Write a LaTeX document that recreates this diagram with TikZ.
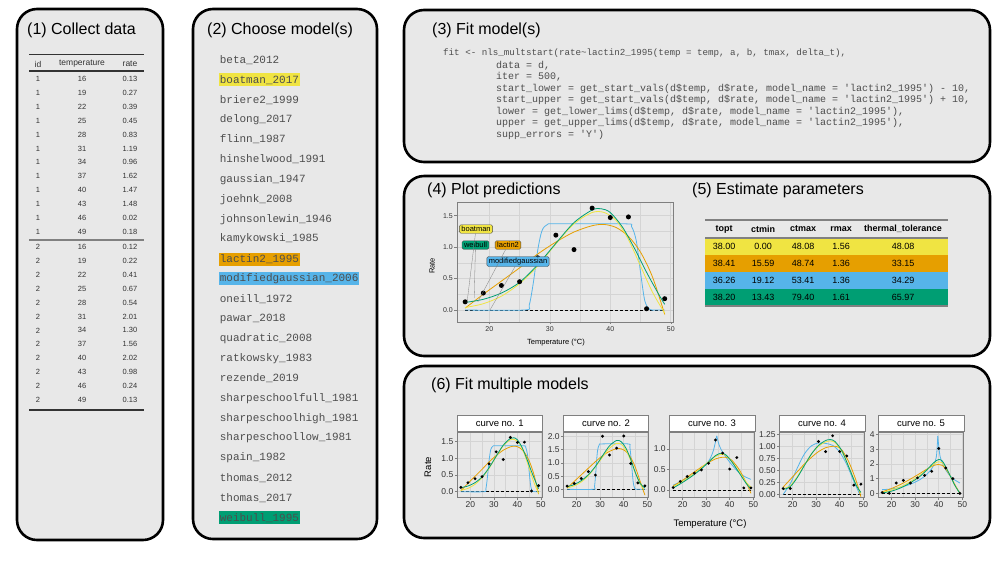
\documentclass[tikz,border=0pt]{standalone}
\usepackage{fontspec}
\setmainfont{Liberation Sans}
\setmonofont{Liberation Mono}
\usetikzlibrary{positioning}
\definecolor{boxgray}{HTML}{E8E8E8}
\definecolor{okyellow}{HTML}{F0E442}
\definecolor{okorange}{HTML}{E69F00}
\definecolor{okblue}{HTML}{56B4E9}
\definecolor{okgreen}{HTML}{009E73}
\definecolor{txtgray}{HTML}{333333}
\definecolor{codegray}{HTML}{4D4D4D}
\definecolor{gridgray}{HTML}{D4D4D4}
\definecolor{framegray}{HTML}{7F7F7F}

\begin{document}
\begin{tikzpicture}[
    x=1pt, y=-1pt,
    panel/.style={draw=black, line width=2.6pt, fill=boxgray, rounded corners=20pt},
    ptitle/.style={anchor=west, inner sep=0pt, font=\fontsize{16}{18}\selectfont},
    hd/.style={inner sep=0pt, text=txtgray, font=\fontsize{8.5}{10}\selectfont},
    cell/.style={inner sep=0pt, text=txtgray, font=\fontsize{7.5}{8}\selectfont},
    modelname/.style={anchor=west, inner xsep=0.6pt, inner ysep=0pt, minimum height=13pt,
      text=codegray, font=\ttfamily\fontsize{11}{12}\selectfont},
    codeline/.style={anchor=west, inner sep=0pt, text=codegray, font=\ttfamily\fontsize{10}{11}\selectfont},
    pcell/.style={inner sep=0pt, font=\fontsize{9}{10}\selectfont},
    gridmaj/.style={draw=gridgray, line width=0.6pt},
    gridmin/.style={draw=gridgray, line width=0.3pt},
    plotframe/.style={draw=framegray, line width=0.6pt},
    zeroline/.style={line width=0.7pt, dash pattern=on 3pt off 2pt},
    tickmark/.style={draw=framegray, line width=0.5pt},
    ticklab/.style={inner sep=0pt, text=txtgray, font=\fontsize{7}{8}\selectfont},
    fticklab/.style={inner sep=0pt, text=txtgray, font=\fontsize{8.5}{9}\selectfont},
    axtitle/.style={inner sep=0pt, font=\fontsize{7.5}{8}\selectfont},
    faxtitle/.style={inner sep=0pt, font=\fontsize{9.5}{10}\selectfont},
    cb/.style={draw=okblue, line width=0.8pt},
    co/.style={draw=okorange, line width=0.8pt},
    cy/.style={draw=okyellow, line width=0.8pt},
    cg/.style={draw=okgreen, line width=0.8pt},
    replabel/.style={draw=black!70, rounded corners=1.5pt, inner xsep=2pt, inner ysep=1.5pt,
      font=\fontsize{7.5}{8}\selectfont},
    leader/.style={draw=gray, line width=0.3pt},
    stripbox/.style={draw=framegray, fill=white, line width=0.6pt, minimum width=85.5pt,
      minimum height=16pt, inner sep=0pt, font=\fontsize{9.5}{10}\selectfont},
    mainplot/.style={shift={(368.4,310)}, x=6.047pt, y=62.9pt},
    f1/.style={shift={(423.2,491.7)}, x=2.355pt, y=33.5pt},
    f2/.style={shift={(529.5,489.3)}, x=2.355pt, y=26.4pt},
    f3/.style={shift={(635.5,490)}, x=2.355pt, y=41pt},
    f4/.style={shift={(745.5,494.3)}, x=2.355pt, y=48pt},
    f5/.style={shift={(844.5,493.3)}, x=2.355pt, y=14.7pt}
  ]
    \useasboundingbox (0,0) rectangle (1000,563);

    % (1) data table
    \draw[panel] (17,9) rectangle (163,540);
    \node[ptitle] (t1) at (27,30) {(1) Collect data};
    \draw[line width=0.8pt, txtgray] (29,54) -- (144,54);
    \node[hd] (hid) at (38,64) {id};
    \node[hd] (htemp) at (82,64) {temperature};
    \node[hd] (hrate) at (130,64) {rate};
    \draw[line width=1.6pt, txtgray] (29,71) -- (144,71);
    \foreach \tv/\rv [count=\i from 0] in {16/0.13,19/0.27,22/0.39,25/0.45,28/0.83,31/1.19,
        34/0.96,37/1.62,40/1.47,43/1.48,46/0.02,49/0.18} {
      \node[cell] (ia\i) at (38,{79+13.9*\i}) {1};
      \node[cell] (ta\i) at (82,{79+13.9*\i}) {\tv};
      \node[cell] (ra\i) at (130,{79+13.9*\i}) {\rv};
    }
    \draw[line width=1.6pt, gray] (29,240) -- (144,240);
    \foreach \tv/\rv [count=\i from 0] in {16/0.12,19/0.22,22/0.41,25/0.67,28/0.54,31/2.01,
        34/1.30,37/1.56,40/2.02,43/0.98,46/0.24,49/0.13} {
      \node[cell] (ib\i) at (38,{247+13.9*\i}) {2};
      \node[cell] (tb\i) at (82,{247+13.9*\i}) {\tv};
      \node[cell] (rb\i) at (130,{247+13.9*\i}) {\rv};
    }
    \draw[line width=1.2pt, txtgray] (29,410) -- (144,410);

    % (2) model list
    \draw[panel] (193,9) rectangle (377,539);
    \node[ptitle] (t2) at (207,30) {(2) Choose model(s)};
    \foreach \m/\c [count=\i from 0] in {beta\_2012/none, boatman\_2017/okyellow,
        briere2\_1999/none, delong\_2017/none, flinn\_1987/none, hinshelwood\_1991/none,
        gaussian\_1947/none, joehnk\_2008/none, johnsonlewin\_1946/none,
        kamykowski\_1985/none, lactin2\_1995/okorange, modifiedgaussian\_2006/okblue,
        oneill\_1972/none, pawar\_2018/none, quadratic\_2008/none, ratkowsky\_1983/none,
        rezende\_2019/none, sharpeschoolfull\_1981/none, sharpeschoolhigh\_1981/none,
        sharpeschoollow\_1981/none, spain\_1982/none, thomas\_2012/none,
        thomas\_2017/none, weibull\_1995/okgreen}
      \node[modelname, fill=\c] (m\i) at (219,{60+19.9*\i}) {\m};

    % (3) fitting code
    \draw[panel] (404,10) rectangle (990,162);
    \node[ptitle] (t3) at (432,30) {(3) Fit model(s)};
    \node[codeline, font=\ttfamily\fontsize{9.2}{11}\selectfont] (c0) at (443,53) {fit <- nls\_multstart(rate\textasciitilde lactin2\_1995(temp = temp, a, b, tmax, delta\_t),};
    \node[codeline] (c1) at (496,65.3) {data = d,};
    \node[codeline] (c2) at (496,76.9) {iter = 500,};
    \node[codeline] (c3) at (496,88.5) {start\_lower = get\_start\_vals(d\$temp, d\$rate, model\_name = 'lactin2\_1995') - 10,};
    \node[codeline] (c4) at (496,100.1) {start\_upper = get\_start\_vals(d\$temp, d\$rate, model\_name = 'lactin2\_1995') + 10,};
    \node[codeline] (c5) at (496,111.7) {lower = get\_lower\_lims(d\$temp, d\$rate, model\_name = 'lactin2\_1995'),};
    \node[codeline] (c6) at (496,123.3) {upper = get\_upper\_lims(d\$temp, d\$rate, model\_name = 'lactin2\_1995'),};
    \node[codeline] (c7) at (496,134.9) {supp\_errors = 'Y')};

    % (4) + (5)
    \draw[panel] (404,176) rectangle (990,356);
    \node[ptitle] (t4) at (427,190) {(4) Plot predictions};
    \node[ptitle] (t5) at (692,190) {(5) Estimate parameters};

    \begin{scope}[mainplot]
      \foreach \T in {25,35,45} \draw[gridmin] (\T,-0.19) -- (\T,1.72);
      \foreach \v in {0.25,0.75,1.25} \draw[gridmin] (14.65,\v) -- (50.37,\v);
      \foreach \T in {20,30,40,50} {
        \draw[gridmaj] (\T,-0.19) -- (\T,1.72);
        \draw[tickmark] (\T,-0.19) -- ++(0pt,-2.5pt);
        \node[ticklab, anchor=north] (mx\T) at ([yshift=-4pt]\T,-0.19) {\T};
      }
      \foreach \v [count=\k] in {0.0,0.5,1.0,1.5} {
        \draw[gridmaj] (14.65,\v) -- (50.37,\v);
        \draw[tickmark] (14.65,\v) -- ++(-2.5pt,0pt);
        \node[ticklab, anchor=east] (my\k) at ([xshift=-4pt]14.65,\v) {\v};
      }
      \draw[zeroline] (16,0) -- (49,0);
      \draw[cb] plot[smooth, tension=0.5] coordinates {(16,0) (25.8,0) (26.6,0.08) (27.3,0.45) (28,0.95)
        (28.7,1.26) (29.6,1.36) (31,1.37) (42.5,1.37) (43.5,1.33) (44.3,1.1) (45,0.6) (45.7,0.15)
        (46.5,0.01) (47.5,0) (49,0)};
      \draw[co] plot[smooth] coordinates {(16,0.03) (19,0.25) (22,0.46) (25,0.67) (28,0.89) (31,1.08)
        (34,1.24) (37,1.34) (39,1.36) (41,1.31) (43,1.17) (45,0.92) (47,0.52) (49,-0.07)};
      \draw[cy] plot[smooth] coordinates {(16,0.04) (19,0.1) (22,0.22) (25,0.42) (28,0.7) (31,1.05)
        (34,1.37) (37,1.55) (39,1.55) (41,1.42) (43,1.12) (45,0.7) (47,0.28) (49,-0.05)};
      \draw[cg] plot[smooth] coordinates {(16,0.12) (19,0.17) (22,0.27) (25,0.44) (28,0.72) (31,1.06)
        (34,1.39) (37,1.59) (38.5,1.61) (40,1.55) (42,1.32) (44,0.98) (46,0.6) (48,0.25) (49,0.09)};
      \foreach \T/\r in {16/0.13,19/0.27,22/0.39,25/0.45,28/0.83,31/1.19,34/0.96,37/1.62,
          40/1.47,43/1.48,46/0.02,49/0.18}
        \fill (\T,\r) circle (2.5pt);
      \draw[plotframe] (14.65,-0.19) rectangle (50.37,1.72);
      \coordinate (eBoat) at (16.3,0.11);
      \coordinate (eWeib) at (17.5,0.19);
      \coordinate (eLact) at (18.1,0.13);
      \coordinate (eMod) at (20.1,0);
    \end{scope}
    \node[replabel, fill=okyellow] (lbBoat) at (476,229) {boatman};
    \node[replabel, fill=okgreen] (lbWeib) at (475.5,245) {weibull};
    \node[replabel, fill=okorange] (lbLact) at (508,245) {lactin2};
    \node[replabel, fill=okblue] (lbMod) at (518,261.5) {modifiedgaussian};
    \draw[leader] (lbBoat) -- (eBoat);
    \draw[leader] (lbWeib) -- (eWeib);
    \draw[leader] (lbLact) -- (eLact);
    \draw[leader] (lbMod) -- (eMod);
    \node[axtitle, rotate=90] (mRate) at (432,266) {Rate};
    \node[axtitle] (mTemp) at (556,343) {Temperature (°C)};

    % parameter table
    \draw[line width=1.6pt, gray] (705,220) -- (948,220);
    \foreach \h/\x [count=\i] in {topt/724, ctmin/763, ctmax/803, rmax/841, thermal\_tolerance/903}
      \node[pcell, font=\bfseries\fontsize{9}{10}\selectfont] (hp\i) at (\x,229) {\h};
    \foreach \c/\a/\b/\d/\e/\f [count=\i from 0] in {okyellow/38.00/0.00/48.08/1.56/48.08,
        okorange/38.41/15.59/48.74/1.36/33.15, okblue/36.26/19.12/53.41/1.36/34.29,
        okgreen/38.20/13.43/79.40/1.61/65.97} {
      \fill[\c] (705,{238+17*\i}) rectangle (948,{255+17*\i});
      \node[pcell] (pa\i) at (724,{246.8+17*\i}) {\a};
      \node[pcell] (pb\i) at (763,{246.8+17*\i}) {\b};
      \node[pcell] (pc\i) at (803,{246.8+17*\i}) {\d};
      \node[pcell] (pd\i) at (841,{246.8+17*\i}) {\e};
      \node[pcell] (pe\i) at (903,{246.8+17*\i}) {\f};
    }
    \draw[line width=1.4pt, gray] (705,238) -- (948,238);
    \draw[line width=1.4pt, gray] (705,306) -- (948,306);

    % (6) facets
    \draw[panel] (404,366) rectangle (990,538);
    \node[ptitle] (t6) at (431,385) {(6) Fit multiple models};
    \foreach \n/\lo/\hi/\yt in {1/-0.173/1.782/{0.0,0.5,1.0,1.5},
        2/-0.31/2.17/{0.0,0.5,1.0,1.5,2.0}, 3/-0.183/1.415/{0.0,0.5,1.0},
        4/-0.067/1.298/{0.00,0.25,0.50,0.75,1.00,1.25}, 5/-0.286/4.17/{0,1,2,3,4}} {
      \begin{scope}[f\n]
        \foreach \T in {25,35,45} \draw[gridmin] (\T,\lo) -- (\T,\hi);
        \foreach \T in {20,30,40,50} {
          \draw[gridmaj] (\T,\lo) -- (\T,\hi);
          \draw[tickmark] (\T,\lo) -- ++(0pt,-2.5pt);
          \node[fticklab, anchor=north] (fx\n-\T) at ([yshift=-3.5pt]\T,\lo) {\T};
        }
        \foreach \v [count=\k] in \yt {
          \draw[gridmaj] (14.35,\v) -- (50.65,\v);
          \draw[tickmark] (14.35,\v) -- ++(-2.5pt,0pt);
          \node[fticklab, anchor=east] (fy\n-\k) at ([xshift=-3.5pt]14.35,\v) {\v};
        }
        \draw[zeroline] (16,0) -- (49,0);
        \draw[plotframe] (14.35,\lo) rectangle (50.65,\hi);
        \node[stripbox, anchor=south] (strip\n) at (32.5,\hi) {curve no. \n};
      \end{scope}
    }

    \begin{scope}[f1]
      \draw[cb] plot[smooth, tension=0.5] coordinates {(16,0) (25.8,0) (26.6,0.08) (27.3,0.45) (28,0.95)
        (28.7,1.26) (29.6,1.36) (31,1.37) (42.5,1.37) (43.5,1.33) (44.3,1.1) (45,0.6) (45.7,0.15)
        (46.5,0.01) (47.5,0) (49,0)};
      \draw[co] plot[smooth] coordinates {(16,0.03) (19,0.25) (22,0.46) (25,0.67) (28,0.89) (31,1.08)
        (34,1.24) (37,1.34) (39,1.36) (41,1.31) (43,1.17) (45,0.92) (47,0.52) (49,-0.07)};
      \draw[cy] plot[smooth] coordinates {(16,0.04) (19,0.1) (22,0.22) (25,0.42) (28,0.7) (31,1.05)
        (34,1.37) (37,1.55) (39,1.55) (41,1.42) (43,1.12) (45,0.7) (47,0.28) (49,-0.05)};
      \draw[cg] plot[smooth] coordinates {(16,0.12) (19,0.17) (22,0.27) (25,0.44) (28,0.72) (31,1.06)
        (34,1.39) (37,1.59) (38.5,1.61) (40,1.55) (42,1.32) (44,0.98) (46,0.6) (48,0.25) (49,0.09)};
      \foreach \T/\r in {16/0.13,19/0.27,22/0.39,25/0.45,28/0.83,31/1.19,34/0.96,37/1.62,
          40/1.47,43/1.48,46/0.02,49/0.18}
        \fill (\T,\r) circle (1.6pt);
    \end{scope}

    \begin{scope}[f2]
      \draw[cb] plot[smooth, tension=0.5] coordinates {(16,0) (27,0) (27.6,0.1) (28.2,0.7) (28.8,1.4)
        (29.6,1.69) (31,1.72) (41.8,1.72) (42.6,1.6) (43.3,1.0) (44,0.3) (44.7,0.02) (45.5,0) (49,0)};
      \draw[co] plot[smooth] coordinates {(16,0.05) (19,0.3) (22,0.55) (25,0.8) (28,1.05) (31,1.27)
        (34,1.44) (37,1.54) (39,1.53) (41,1.43) (43,1.2) (45,0.82) (47,0.3) (49,-0.22)};
      \draw[cy] plot[smooth] coordinates {(16,0.05) (19,0.13) (22,0.28) (25,0.52) (28,0.85) (31,1.22)
        (34,1.56) (37,1.74) (39,1.7) (41,1.48) (43,1.08) (45,0.6) (47,0.2) (48.5,0)};
      \draw[cg] plot[smooth] coordinates {(16,0.1) (19,0.18) (22,0.33) (25,0.55) (28,0.87) (31,1.27)
        (34,1.65) (37,1.85) (39,1.8) (41,1.55) (43,1.13) (45,0.62) (47,0.22) (49,0.05)};
      \foreach \T/\r in {16/0.12,19/0.22,22/0.41,25/0.67,28/0.54,31/2.01,34/1.30,37/1.56,
          40/2.02,43/0.98,46/0.24,49/0.13}
        \fill (\T,\r) circle (1.6pt);
    \end{scope}

    \begin{scope}[f3]
      \draw[cb] plot[smooth] coordinates {(16,0.12) (19,0.2) (22,0.3) (25,0.4) (28,0.52) (31,0.7)
        (33,0.95) (34.5,1.32)};
      \draw[cb] plot[smooth] coordinates {(34.5,1.32) (35.5,1.1) (37,0.92) (40,0.68) (43,0.48)
        (46,0.34) (49,0.26)};
      \draw[co] plot[smooth] coordinates {(16,0.1) (19,0.2) (22,0.32) (25,0.44) (28,0.56) (31,0.67)
        (34,0.76) (37,0.8) (39,0.79) (41,0.72) (44,0.5) (47,0.18) (49,-0.08)};
      \draw[cy] plot[smooth] coordinates {(16,0.08) (19,0.17) (22,0.28) (25,0.4) (28,0.54) (31,0.69)
        (34,0.82) (36.5,0.87) (38.5,0.84) (41,0.68) (44,0.44) (47,0.19) (49,0.07)};
      \draw[cg] plot[smooth] coordinates {(16,0.05) (19,0.15) (22,0.26) (25,0.38) (28,0.52) (31,0.68)
        (34,0.84) (36.5,0.9) (38.5,0.85) (41,0.68) (44,0.42) (47,0.16) (49,0.03)};
      \foreach \T/\r in {16/0.06,19/0.21,22/0.33,25/0.41,28/0.49,31/0.65,34/1.22,37/0.90,
          40/0.51,43/0.79,46/0.05,49/0.05}
        \fill (\T,\r) circle (1.6pt);
    \end{scope}

    \begin{scope}[f4]
      \draw[cb] plot[smooth] coordinates {(16,0) (19,0.22) (22,0.55) (25,0.84) (28,1.01) (31,1.07)
        (34,1.06) (37,1.02) (40,0.88) (43,0.62) (46,0.27) (48.5,0)};
      \draw[co] plot[smooth] coordinates {(16,0.15) (19,0.31) (22,0.47) (25,0.63) (28,0.77) (31,0.89)
        (34,0.97) (37,1.0) (39,0.99) (41,0.92) (44,0.66) (47,0.28) (49,-0.05)};
      \draw[cy] plot[smooth] coordinates {(16,0.12) (19,0.18) (22,0.37) (25,0.61) (28,0.84) (31,1.0)
        (34,1.09) (36,1.11) (38,1.08) (41,0.88) (44,0.55) (47,0.2) (49,0.02)};
      \draw[cg] plot[smooth] coordinates {(16,0.1) (19,0.16) (22,0.35) (25,0.6) (28,0.84) (31,1.02)
        (34,1.12) (36,1.14) (38,1.1) (41,0.9) (44,0.55) (47,0.19) (49,0.04)};
      \foreach \T/\r in {16/0.12,19/0.12,31/1.10,34/0.89,37/1.22,40/0.89,43/0.80,46/0.19,49/0.21}
        \fill (\T,\r) circle (1.6pt);
    \end{scope}

    \begin{scope}[f5]
      \draw[cb] plot[smooth] coordinates {(16,0.25) (20,0.3) (24,0.42) (28,0.62) (32,0.93) (35,1.3)
        (37.5,1.8) (39,2.5) (39.6,3.9)};
      \draw[cb] plot[smooth] coordinates {(39.6,3.9) (40.6,2.5) (42.5,1.75) (44,1.35) (46,1.0) (49,0.7)};
      \draw[co] plot[smooth] coordinates {(16,0.1) (20,0.33) (24,0.62) (28,0.97) (32,1.35) (35,1.65)
        (38,1.9) (40,1.96) (41.5,1.9) (43,1.65) (45,1.15) (47,0.55) (49,0)};
      \draw[cy] plot[smooth] coordinates {(16,0.05) (20,0.22) (24,0.46) (28,0.8) (32,1.22) (35,1.6)
        (38,2.0) (40,2.15) (41.5,2.08) (43,1.75) (45,1.15) (47,0.5) (49,0)};
      \draw[cg] plot[smooth] coordinates {(16,0.02) (20,0.15) (24,0.38) (28,0.72) (32,1.15) (35,1.6)
        (38,2.1) (40,2.3) (41.5,2.2) (43,1.8) (45,1.15) (47,0.5) (49,0)};
      \foreach \T/\r in {16/0.05,19/0.0,22/0.7,25/0.88,28/0.7,31/1.05,34/1.22,37/1.5,
          40/3.05,43/1.72,46/1.0,49/0.0}
        \fill (\T,\r) circle (1.6pt);
    \end{scope}

    \node[faxtitle, rotate=90] (fRate) at (428,467) {Rate};
    \node[faxtitle] (fTemp) at (710,524) {Temperature (°C)};
  \end{tikzpicture}
\end{document}
